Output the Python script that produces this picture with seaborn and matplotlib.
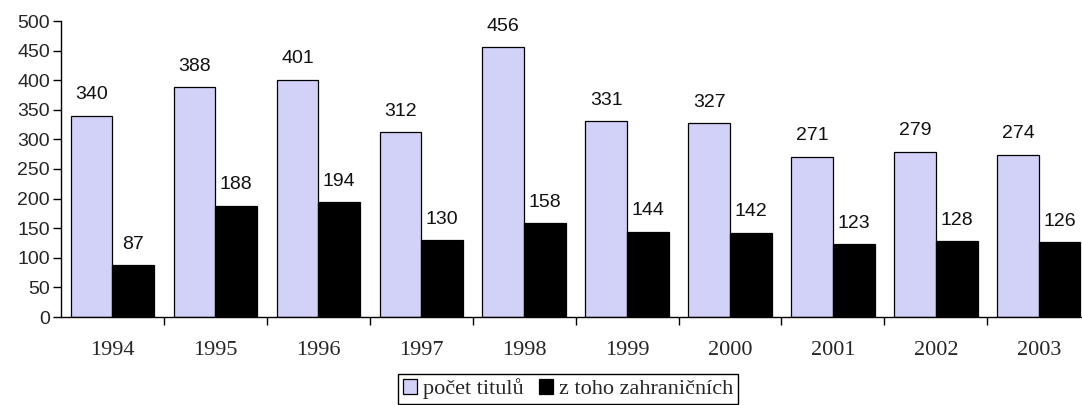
import matplotlib
matplotlib.use("Agg")
import matplotlib.pyplot as plt
import seaborn as sns
import pandas as pd

years = ["1994", "1995", "1996", "1997", "1998", "1999", "2000", "2001", "2002", "2003"]
pocet_titulu = [340, 388, 401, 312, 456, 331, 327, 271, 279, 274]
zahranicnich = [87, 188, 194, 130, 158, 144, 142, 123, 128, 126]
series_names = ["počet titulů", "z toho zahraničních"]
y_ticks = [0, 50, 100, 150, 200, 250, 300, 350, 400, 450, 500]

df = pd.DataFrame({
    "year": years * 2,
    "value": pocet_titulu + zahranicnich,
    "series": [series_names[0]] * len(years) + [series_names[1]] * len(years),
})

sns.set_theme(style="white")
plt.rcParams['font.family'] = ['Liberation Sans', 'DejaVu Sans']

fig = plt.figure(figsize=(10.82, 4.05), dpi=100)
ax = fig.add_axes([61/1082, 1-317/405, 1-61/1082, (317-21)/405])

sns.barplot(data=df, x="year", y="value", hue="series", order=years,
            hue_order=series_names, palette=["#CCCCFF", "#000000"],
            width=0.81, gap=0, edgecolor="#000000", linewidth=0.9,
            ax=ax, legend=True)

for cont in ax.containers:
    ax.bar_label(cont, padding=9, fontsize=14, color="#111111")

ax.set_ylim(0, 500)
ax.set_xlim(-0.5, 9.42)
ax.set_yticks(y_ticks)
ax.set_yticklabels([str(v) for v in y_ticks], fontsize=14)
ax.set_xlabel("")
ax.set_ylabel("")

# x ticks: labels at centres, tick marks at boundaries
ax.set_xticks(range(len(years)))
ax.set_xticklabels(years, fontsize=16, family=['Liberation Serif', 'DejaVu Serif'])
ax.tick_params(axis='x', length=0, pad=17)
ax.set_xticks([i + 0.5 for i in range(len(years) - 1)], minor=True)
ax.tick_params(axis='x', which='minor', direction='out', length=6, width=1, color='black', bottom=True)
ax.tick_params(axis='y', direction='out', length=6, width=1, color='black', left=True, pad=2)

for s in ["top", "right"]:
    ax.spines[s].set_visible(False)
for s in ["left", "bottom"]:
    ax.spines[s].set_color("black")
    ax.spines[s].set_linewidth(1)

handles, labels = ax.get_legend_handles_labels()
ax.get_legend().remove()
leg = fig.legend(handles, labels, loc="center", bbox_to_anchor=(0.525, 0.04), ncol=2,
                 frameon=True, fancybox=False, edgecolor="black", framealpha=1,
                 prop={'family': ['Liberation Serif', 'DejaVu Serif'], 'size': 16},
                 handlelength=0.65, handleheight=0.65, handletextpad=0.25,
                 columnspacing=0.7, borderpad=0.2, borderaxespad=0)
leg.get_frame().set_linewidth(1)

fig.savefig("out.png", dpi=100)
